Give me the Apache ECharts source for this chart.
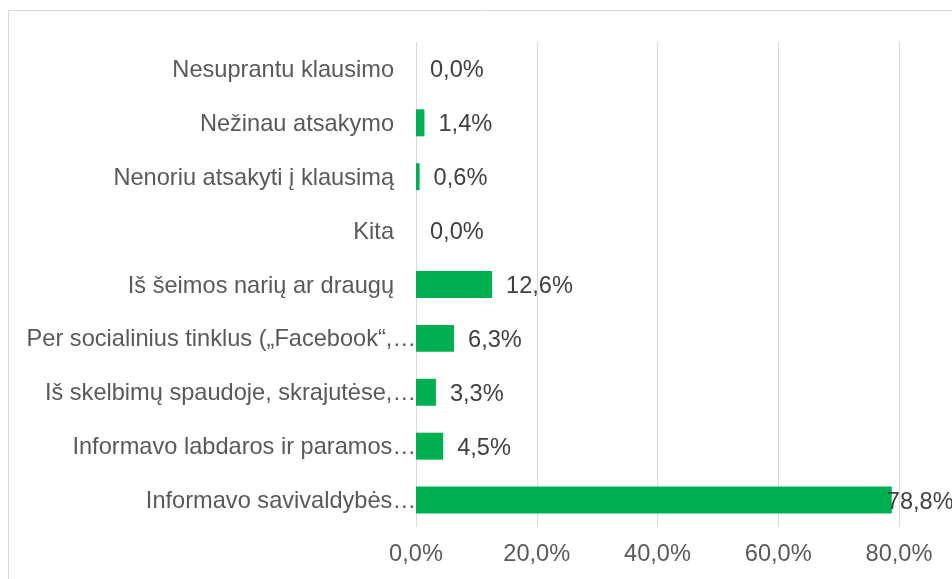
<!DOCTYPE html>
<html>
<head>
<meta charset="utf-8">
<script src="https://cdn.jsdelivr.net/npm/echarts@6/dist/echarts.min.js"></script>
<style>
  html, body { margin: 0; padding: 0; background: #fff; }
  #chart { width: 952px; height: 579px; }
</style>
</head>
<body>
<div id="chart"></div>
<script>
// categories bottom -> top
const categories = [
  'Informavo savivaldybės…',
  'Informavo labdaros ir paramos…',
  'Iš skelbimų spaudoje, skrajutėse,…',
  'Per socialinius tinklus („Facebook“,…',
  'Iš šeimos narių ar draugų',
  'Kita',
  'Nenoriu atsakyti į klausimą',
  'Nežinau atsakymo',
  'Nesuprantu klausimo'
];
const values = [78.8, 4.5, 3.3, 6.3, 12.6, 0.0, 0.6, 1.4, 0.0];

const chart = echarts.init(document.getElementById('chart'));
const fmt = v => v.toFixed(1).replace('.', ',') + '%';
const textColor = '#595959';
const font = '"Liberation Sans", Arial, sans-serif';
const fs = 23.6;

const option = {
  animation: false,
  textStyle: { fontFamily: font },
  graphic: [{
    type: 'rect',
    shape: { x: 8.5, y: 10.5, width: 1000, height: 700 },
    style: { fill: 'none', stroke: '#d9d9d9', lineWidth: 1 },
    silent: true
  }],
  grid: {
    left: 416,
    right: 53,
    top: 42,
    bottom: 52
  },
  xAxis: {
    type: 'value',
    min: 0,
    max: 80,
    interval: 20,
    axisLine: { show: false },
    axisTick: { show: false },
    splitLine: { lineStyle: { color: '#d9d9d9', width: 1 } },
    axisLabel: {
      color: textColor,
      fontSize: fs,
      fontFamily: font,
      margin: 15,
      formatter: v => fmt(v)
    }
  },
  yAxis: {
    type: 'category',
    data: categories,
    axisLine: { show: false },
    axisTick: { show: false },
    axisLabel: {
      color: textColor,
      fontSize: fs,
      fontFamily: font,
      margin: 0,
      formatter: v => v.endsWith('…') ? '{t|' + v + '}' : '{n|' + v + '}',
      rich: {
        t: { fontSize: fs, color: textColor, fontFamily: font, padding: [3, 0, 0, 0] },
        n: { fontSize: fs, color: textColor, fontFamily: font, padding: [3, 22, 0, 0] }
      }
    }
  },
  series: [{
    type: 'bar',
    barCategoryGap: '50%',
    itemStyle: { color: '#00b050' },
    label: {
      show: true,
      position: 'right',
      distance: 14,
      offset: [0, 2],
      color: '#404040',
      fontSize: fs,
      fontFamily: font,
      formatter: p => fmt(p.value)
    },
    data: values.map((v, i) => i === 0 ? { value: v, label: { distance: -5 } } : v)
  }]
};

chart.setOption(option);
</script>
</body>
</html>
